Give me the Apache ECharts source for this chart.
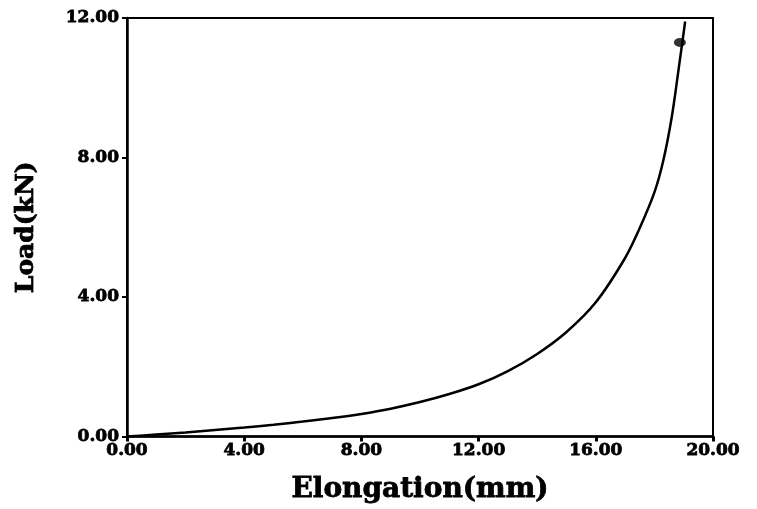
<!DOCTYPE html>
<html>
<head>
<meta charset="utf-8">
<script src="https://cdn.jsdelivr.net/npm/echarts@6/dist/echarts.min.js"></script>
<style>
  html, body { margin: 0; padding: 0; background: #fff; }
  #chart { width: 757px; height: 509px; }
</style>
</head>
<body>
<div id="chart"></div>
<script>
// elongation (mm) vs load (kN)
const elongation = [0, 1, 2, 3, 4, 5, 6, 7, 8, 9, 10, 11, 12, 13, 14, 15, 16, 17, 17.5, 18, 18.3, 18.6, 18.87, 19.05]
const load = [0, 0.06, 0.12, 0.19, 0.26, 0.34, 0.43, 0.53, 0.65, 0.8, 0.99, 1.22, 1.5, 1.88, 2.37, 3.0, 3.85, 5.12, 5.98, 7.0, 7.9, 9.2, 10.8, 11.9]

// the single marked point near the end of the curve
const markX = [18.87]
const markY = [11.3]

const xTicks = [0, 4, 8, 12, 16, 20]
const yTicks = [0, 4, 8, 12]

const font = 'DejaVu Serif'

const chart = echarts.init(document.getElementById('chart'), null, { renderer: 'canvas' })

const axisText = {
  fontFamily: font,
  fontWeight: 'bold',
  fontSize: 17,
  color: '#000',
  textBorderColor: '#000',
  textBorderWidth: 0.8
}

chart.setOption({
  animation: false,
  backgroundColor: '#fff',
  grid: {
    left: 127,
    right: 44,
    top: 18,
    bottom: 71,
    show: true,
    borderColor: '#000',
    borderWidth: 2
  },
  xAxis: {
    type: 'value',
    min: xTicks[0],
    max: xTicks[xTicks.length - 1],
    interval: 4,
    name: 'Elongation(mm)',
    nameLocation: 'middle',
    nameGap: 39,
    nameTextStyle: { fontFamily: font, fontWeight: 'bold', fontSize: 28, color: '#000', textBorderColor: '#000', textBorderWidth: 0.8 },
    axisLine: { lineStyle: { color: '#000', width: 2.5 } },
    axisTick: { show: true, length: 5, lineStyle: { color: '#000', width: 3 } },
    axisLabel: Object.assign({ margin: 5, formatter: v => v.toFixed(2) }, axisText),
    splitLine: { show: false }
  },
  yAxis: {
    type: 'value',
    min: yTicks[0],
    max: yTicks[yTicks.length - 1],
    interval: 4,
    name: 'Load(kN)',
    nameLocation: 'middle',
    nameGap: 88,
    nameTextStyle: { fontFamily: font, fontWeight: 'bold', fontSize: 25, color: '#000', textBorderColor: '#000', textBorderWidth: 0.8 },
    axisLine: { lineStyle: { color: '#000', width: 2.5 } },
    axisTick: { show: true, length: 5, lineStyle: { color: '#000', width: 2 } },
    axisLabel: Object.assign({ margin: 8, formatter: v => v.toFixed(2) }, axisText),
    splitLine: { show: false }
  },
  series: [
    {
      type: 'line',
      smooth: 0.3,
      symbol: 'none',
      lineStyle: { color: '#000', width: 2.5 },
      data: elongation.map((x, i) => [x, load[i]]),
      z: 2
    },
    {
      type: 'scatter',
      symbol: 'circle',
      symbolSize: [12, 9],
      itemStyle: { color: '#000' },
      data: markX.map((x, i) => [x, markY[i]]),
      z: 3
    }
  ]
})
</script>
</body>
</html>
